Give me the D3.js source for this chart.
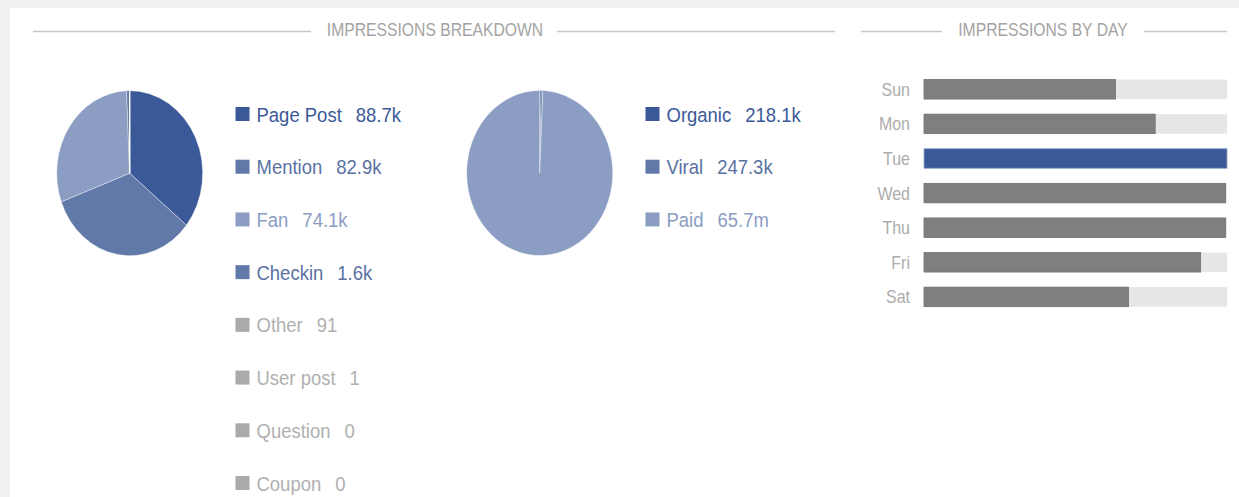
<!DOCTYPE html>
<html>
<head>
<meta charset="utf-8">
<script src="https://cdn.jsdelivr.net/npm/d3@7"></script>
<style>
body { margin: 0; background: #f1f1f1; }
svg { display: block; font-family: "Liberation Sans", Arial, sans-serif; }
</style>
</head>
<body>
<svg id="chart" width="1239" height="497"></svg>
<script>
// impressions breakdown by source
var sourceLabels = ["Page Post", "Mention", "Fan", "Checkin", "Other", "User post", "Question", "Coupon"];
var sourceValues = [88700, 82900, 74100, 1600, 91, 1, 0, 0];
var sourceText   = ["88.7k", "82.9k", "74.1k", "1.6k", "91", "1", "0", "0"];

// impressions breakdown by type
var typeLabels = ["Organic", "Viral", "Paid"];
var typeValues = [218100, 247300, 65700000];
var typeText   = ["218.1k", "247.3k", "65.7m"];

// impressions by day (relative to busiest day)
var days      = ["Sun", "Mon", "Tue", "Wed", "Thu", "Fri", "Sat"];
var dayValues = [63.2, 76.3, 100, 99.5, 99.5, 91.3, 67.5];
var bestDay   = "Tue";

var sourceColors = ["#3b5998", "#6179a8", "#8b9dc3", "#6179a8", "#aaaaaa", "#aaaaaa", "#aaaaaa", "#aaaaaa"];
var sourceTextColors = ["#3b5998", "#5a71a2", "#8b9dc3", "#5a71a2", "#b0b0b0", "#b0b0b0", "#b0b0b0", "#b0b0b0"];
var typeColors = ["#3b5998", "#6179a8", "#8b9dc3"];
var typeTextColors = ["#3b5998", "#5a71a2", "#8b9dc3"];

var SY = 1.13; // the whole picture is a little taller than wide

var svg = d3.select("#chart");

// white panel
svg.append("rect")
    .attr("x", 10).attr("y", 8)
    .attr("width", 1229).attr("height", 489)
    .attr("fill", "#ffffff");

function header(text, cx, x0, x1, x2, x3)
{
    svg.append("line").attr("x1", x0).attr("x2", x1).attr("y1", 31.5).attr("y2", 31.5)
        .attr("stroke", "#c6c6c6").attr("stroke-width", 1.3);
    svg.append("line").attr("x1", x2).attr("x2", x3).attr("y1", 31.5).attr("y2", 31.5)
        .attr("stroke", "#c6c6c6").attr("stroke-width", 1.3);
    svg.append("text")
        .attr("transform", "translate(" + cx + ",36) scale(1," + SY + ")")
        .attr("text-anchor", "middle")
        .attr("font-size", 15.7)
        .attr("fill", "#a3a3a3")
        .text(text);
}

header("IMPRESSIONS BREAKDOWN", 435, 33, 311, 557, 835);
header("IMPRESSIONS BY DAY", 1043, 861, 942, 1144, 1227);

var pie = d3.pie().sort(null).value(function(d) { return d; });
var arc = d3.arc().innerRadius(0).outerRadius(73);

function drawPie(values, colors, cx, cy)
{
    var g = svg.append("g")
        .attr("transform", "translate(" + cx + "," + cy + ") scale(1," + SY + ")");
    g.selectAll("path")
        .data(pie(values))
        .enter().append("path")
        .attr("d", arc)
        .attr("fill", function(d, i) { return colors[i]; })
        .attr("stroke", "#ffffff")
        .attr("stroke-opacity", 0.45)
        .attr("stroke-width", 0.8);
}

drawPie(sourceValues, sourceColors, 129.7, 173.2);
drawPie(typeValues, typeColors, 539.7, 173);

var legendY = d3.scalePoint().domain(d3.range(8)).range([114, 483]);

function drawLegend(labels, texts, colors, textColors, x)
{
    var row = svg.append("g").selectAll("g")
        .data(labels)
        .enter().append("g");

    row.append("rect")
        .attr("x", x)
        .attr("y", function(d, i) { return legendY(i) - 7; })
        .attr("width", 14).attr("height", 14)
        .attr("fill", function(d, i) { return colors[i]; });

    var t = row.append("text")
        .attr("transform", function(d, i)
        {
            return "translate(" + (x + 21) + "," + (legendY(i) + 7.5) + ") scale(1," + SY + ")";
        })
        .attr("font-size", 18.5)
        .attr("fill", function(d, i) { return textColors[i]; });
    t.append("tspan").text(function(d) { return d; });
    t.append("tspan").attr("dx", 14).text(function(d, i) { return texts[i]; });
}

drawLegend(sourceLabels, sourceText, sourceColors, sourceTextColors, 235.5);
drawLegend(typeLabels, typeText, typeColors, typeTextColors, 645.5);

// bars by day
var x = d3.scaleLinear().domain([0, d3.max(dayValues)]).range([924, 1227]);
var y = d3.scaleBand().domain(days).range([72, 314.2]).paddingInner(0.436).paddingOuter(0.218);

var bars = svg.append("g").selectAll("g")
    .data(days)
    .enter().append("g");

bars.append("rect")
    .attr("x", x(0))
    .attr("y", function(d) { return y(d); })
    .attr("width", x.range()[1] - x(0))
    .attr("height", y.bandwidth())
    .attr("fill", "#e6e6e6");

bars.append("rect")
    .attr("x", x(0))
    .attr("y", function(d) { return y(d); })
    .attr("width", function(d, i) { return x(dayValues[i]) - x(0); })
    .attr("height", y.bandwidth())
    .attr("fill", function(d) { return d === bestDay ? "#3b5998" : "#7f7f7f"; })
    .attr("stroke", function(d) { return d === bestDay ? "#8fa3cc" : "#727272"; })
    .attr("stroke-width", 0.8);

bars.append("text")
    .attr("transform", function(d)
    {
        return "translate(910," + (y(d) + y.bandwidth() / 2 + 6.5) + ") scale(1," + SY + ")";
    })
    .attr("text-anchor", "end")
    .attr("font-size", 16)
    .attr("fill", "#acacac")
    .text(function(d) { return d; });
</script>
</body>
</html>
